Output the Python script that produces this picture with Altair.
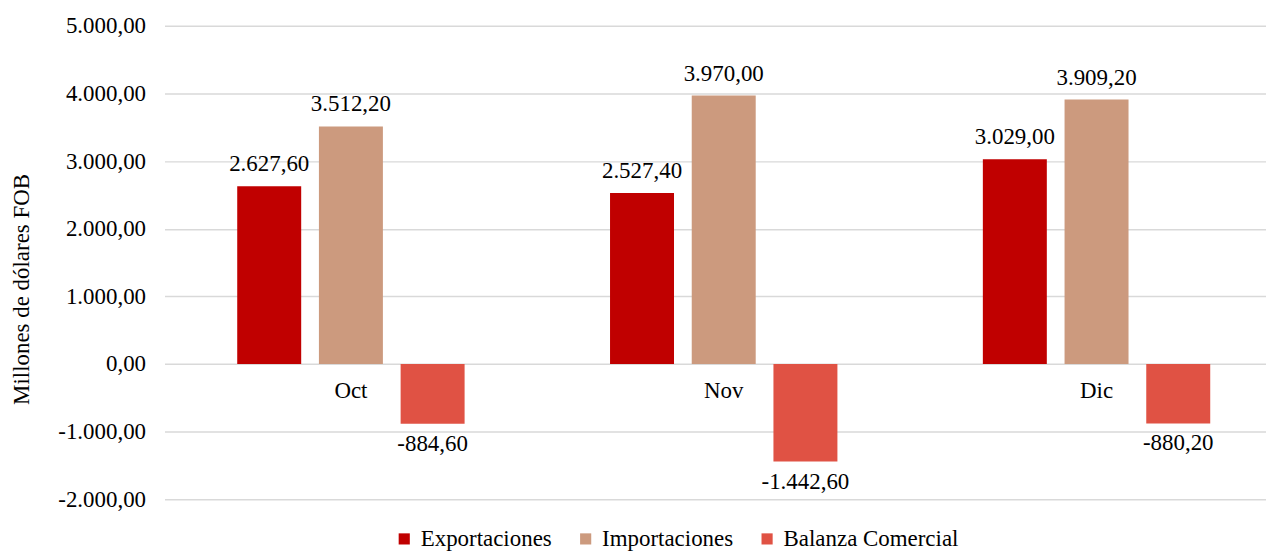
import altair as alt
import pandas as pd

months = ["Oct", "Nov", "Dic"]
series = ["Exportaciones", "Importaciones", "Balanza Comercial"]
exportaciones = [2627.6, 2527.4, 3029.0]
importaciones = [3512.2, 3970.0, 3909.2]
balanza = [-884.6, -1442.6, -880.2]
colors = ["#C00000", "#CC9A7E", "#E05244"]
y_ticks = [-2000, -1000, 0, 1000, 2000, 3000, 4000, 5000]


def es_fmt(v):
    s = f"{v:,.2f}"
    return s.replace(",", "_").replace(".", ",").replace("_", ".")


rows = []
for i, m in enumerate(months):
    for name, vals in zip(series, [exportaciones, importaciones, balanza]):
        rows.append({"mes": m, "serie": name, "valor": vals[i], "etiqueta": es_fmt(vals[i])})
df = pd.DataFrame(rows)
mdf = pd.DataFrame({"mes": months, "cero": [0] * len(months)})

FONT = "'Times New Roman', 'Liberation Serif', serif"
FS = 23

x_enc = alt.X("mes:N", sort=months, axis=None,
              scale=alt.Scale(paddingInner=0, paddingOuter=0, range=[0, 1122]))
xoff = alt.XOffset("serie:N", sort=series,
                   scale=alt.Scale(paddingInner=0.217, paddingOuter=0.89))
y_scale = alt.Scale(domain=[-2000, 5000], nice=False)

label_expr = ("replace(replace(replace(replace(format(datum.value, ',.2f'), '\u2212', '-'), ',', '_'), '.', ','), '_', '.')")

bars = alt.Chart(df).mark_bar().encode(
    x=x_enc,
    xOffset=xoff,
    y=alt.Y("valor:Q", scale=y_scale,
            axis=alt.Axis(values=y_ticks, labelExpr=label_expr,
                          title="Millones de dólares FOB",
                          titleX=-143, titleY=264, titleAngle=270,
                          titleAlign="center", titleBaseline="middle")),
    color=alt.Color("serie:N", sort=series,
                    scale=alt.Scale(domain=series, range=colors),
                    legend=alt.Legend(title=None, orient="none", direction="horizontal",
                                      legendX=229, legendY=503,
                                      symbolType="square", symbolSize=125,
                                      symbolStrokeWidth=0, labelLimit=400,
                                      labelFont=FONT, labelFontSize=FS,
                                      labelColor="#000000", columnPadding=22,
                                      labelOffset=5)),
)

pos_labels = alt.Chart(df).transform_filter("datum.valor >= 0").mark_text(
    font=FONT, fontSize=FS, color="#000000", baseline="middle", dy=-22
).encode(x=x_enc, xOffset=xoff, y=alt.Y("valor:Q", scale=y_scale), text="etiqueta:N")

neg_labels = alt.Chart(df).transform_filter("datum.valor < 0").mark_text(
    font=FONT, fontSize=FS, color="#000000", baseline="middle", dy=20
).encode(x=x_enc, xOffset=xoff, y=alt.Y("valor:Q", scale=y_scale), text="etiqueta:N")

month_labels = alt.Chart(mdf).mark_text(
    font=FONT, fontSize=FS, color="#000000", baseline="middle", dy=27
).encode(x=x_enc, y=alt.Y("cero:Q", scale=y_scale), text="mes:N")

chart = alt.layer(bars, pos_labels, neg_labels, month_labels).properties(
    width=1105, height=475,
    autosize=alt.AutoSizeParams(type="none"),
    padding={"left": 157, "top": 17, "right": 0, "bottom": 51},
).configure_view(stroke=None).configure_axis(
    grid=True, gridColor="#d9d9d9", gridWidth=1.5, domain=False, ticks=False,
    labelFont=FONT, labelFontSize=FS, labelColor="#000000", labelPadding=19,
    titleFont=FONT, titleFontSize=FS, titleColor="#000000", titleFontWeight="normal",
)

chart.save("out.html", embed_options={"renderer": "svg", "actions": False})
